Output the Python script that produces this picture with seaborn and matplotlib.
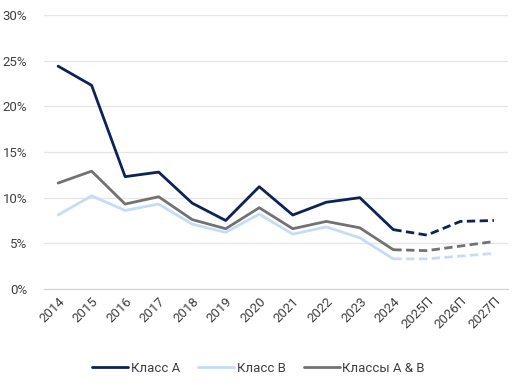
import numpy as np
import pandas as pd
import matplotlib
matplotlib.use("Agg")
import matplotlib.pyplot as plt
import seaborn as sns
from matplotlib.ticker import PercentFormatter
from matplotlib.lines import Line2D

# ------------------------------------------------------------
# Data
# ------------------------------------------------------------

years = ["2014", "2015", "2016", "2017", "2018", "2019", "2020",
         "2021", "2022", "2023", "2024", "2025П", "2026П", "2027П"]
class_a = [24.4, 22.3, 12.3, 12.8, 9.4, 7.5, 11.2, 8.1, 9.5, 10.0, 6.5, 5.9, 7.4, 7.5]
class_b = [8.1, 10.2, 8.6, 9.3, 7.1, 6.2, 8.2, 6.0, 6.8, 5.6, 3.3, 3.3, 3.6, 3.9]
class_ab = [11.6, 12.9, 9.3, 10.1, 7.6, 6.6, 8.9, 6.6, 7.4, 6.7, 4.3, 4.2, 4.7, 5.2]

series_names = ["Класс А", "Класс В", "Классы А & В"]
colors = ["#0C2356", "#C6DCF6", "#727272"]
last_actual = 10  # index of 2024

# ------------------------------------------------------------
# Plot
# ------------------------------------------------------------

sns.set_style("white")
plt.rcParams["font.family"] = ["Roboto", "DejaVu Sans"]

fig = plt.figure(figsize=(5.17, 3.84), dpi=100)
ax = fig.add_axes([44 / 517, 1 - 289 / 384, 464 / 517, 274 / 384])

x = np.arange(len(years))
for name, vals, color in zip(series_names, [class_a, class_b, class_ab], colors):
    df = pd.DataFrame({"x": x, "y": vals})
    sns.lineplot(data=df.iloc[:last_actual + 1], x="x", y="y", color=color,
                 linewidth=2, ax=ax)
    sns.lineplot(data=df.iloc[last_actual:], x="x", y="y", color=color,
                 linewidth=2, linestyle=(0, (3, 1.6)), ax=ax)

ax.set_xlim(-0.42, len(years) - 1 + 0.42)
ax.set_ylim(0, 30)
ax.set_yticks(range(0, 31, 5))
ax.yaxis.set_major_formatter(PercentFormatter(decimals=0))
ax.set_xticks(x)
ax.set_xticklabels(years, rotation=45, ha="right", rotation_mode="anchor")
ax.set_xlabel("")
ax.set_ylabel("")

ax.grid(axis="y", color="#E6E6E6", linewidth=1)
for side in ["top", "right", "left"]:
    ax.spines[side].set_visible(False)
ax.spines["bottom"].set_color("#D0D0D0")
ax.tick_params(axis="both", length=0, labelsize=9.5, colors="#404040")
ax.tick_params(axis="y", pad=12)
ax.tick_params(axis="x", pad=4)

handles = [Line2D([], [], color=c, linewidth=2) for c in colors]
fig.legend(handles, series_names, loc="center", bbox_to_anchor=(0.5, 1 - 368 / 384),
           ncol=3, frameon=False, fontsize=9.5, handlelength=2.7,
           handletextpad=0.2, columnspacing=1.4, labelcolor="#404040")

fig.savefig("out.png", dpi=100)
